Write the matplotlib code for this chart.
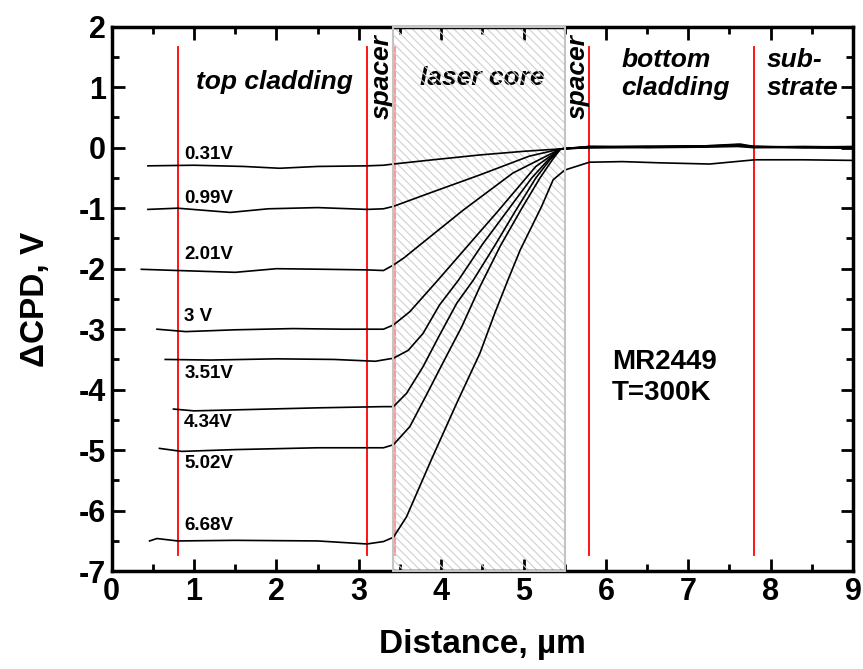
import matplotlib
matplotlib.use("Agg")
import matplotlib.pyplot as plt
from matplotlib.patches import Rectangle
from matplotlib.ticker import MultipleLocator

plt.rcParams['font.family'] = ['Liberation Sans', 'DejaVu Sans']
plt.rcParams['font.weight'] = 'bold'
plt.rcParams['axes.unicode_minus'] = False
plt.rcParams['hatch.linewidth'] = 0.8

# curves: flat part in top cladding, rise through the laser core, flat part beyond
x_031 = [0.44, 1.0, 1.6, 2.04, 2.5, 3.1, 3.3, 3.42, 3.9, 4.47, 5.0, 5.45, 5.8, 6.5, 7.2, 7.63, 7.8, 8.4, 9.0]
y_031 = [-0.30, -0.29, -0.31, -0.34, -0.31, -0.30, -0.29, -0.27, -0.20, -0.12, -0.06, -0.02, 0.01, 0.02, 0.03, 0.06, 0.02, 0.01, 0.00]

x_099 = [0.44, 0.8, 1.44, 1.9, 2.5, 3.1, 3.3, 3.42, 3.86, 4.47, 5.07, 5.45, 5.8, 6.5, 7.2, 7.6, 7.8, 8.4, 9.0]
y_099 = [-1.02, -1.00, -1.07, -1.01, -0.99, -1.02, -1.01, -0.97, -0.75, -0.45, -0.14, -0.02, 0.00, 0.01, 0.02, 0.04, 0.01, 0.02, 0.01]

x_201 = [0.36, 0.8, 1.5, 2.0, 2.6, 3.1, 3.3, 3.42, 3.55, 3.74, 4.27, 4.87, 5.45, 5.8, 6.5, 7.2, 7.6, 7.8, 8.4, 9.0]
y_201 = [-2.01, -2.03, -2.06, -2.00, -2.01, -2.02, -2.03, -1.94, -1.82, -1.61, -1.03, -0.42, -0.02, 0.02, 0.01, 0.03, 0.03, 0.02, 0.00, -0.01]

x_300 = [0.55, 0.9, 1.5, 2.2, 2.8, 3.3, 3.42, 3.62, 3.96, 4.49, 4.67, 5.15, 5.45, 5.8, 6.5, 7.2, 7.6, 7.8, 8.4, 9.0]
y_300 = [-3.00, -3.04, -3.01, -2.99, -3.00, -3.00, -2.93, -2.71, -2.19, -1.36, -1.08, -0.31, -0.02, 0.01, 0.02, 0.02, 0.05, 0.01, 0.01, 0.02]

x_351 = [0.65, 1.2, 2.0, 2.7, 3.2, 3.42, 3.6, 3.78, 3.98, 4.21, 4.5, 4.8, 5.1, 5.3, 5.45, 5.8, 6.5, 7.2, 7.6, 7.8, 8.4, 9.0]
y_351 = [-3.50, -3.51, -3.49, -3.50, -3.53, -3.48, -3.35, -3.07, -2.60, -2.19, -1.60, -1.05, -0.50, -0.20, -0.02, 0.00, 0.01, 0.03, 0.04, 0.01, 0.00, 0.01]

x_434 = [0.75, 1.0, 1.6, 2.5, 3.3, 3.42, 3.58, 3.78, 3.98, 4.19, 4.39, 4.65, 4.9, 5.15, 5.32, 5.45, 5.8, 6.5, 7.2, 7.6, 7.8, 8.4, 9.0]
y_434 = [-4.32, -4.35, -4.33, -4.30, -4.28, -4.28, -4.06, -3.62, -3.10, -2.57, -2.19, -1.62, -1.05, -0.50, -0.20, -0.02, 0.02, 0.02, 0.02, 0.03, 0.02, 0.01, 0.00]

x_502 = [0.58, 0.85, 1.5, 2.5, 3.3, 3.42, 3.62, 3.82, 4.02, 4.25, 4.47, 4.72, 4.98, 5.2, 5.35, 5.45, 5.8, 6.5, 7.2, 7.6, 7.8, 8.4, 9.0]
y_502 = [-4.97, -5.02, -4.99, -4.96, -4.96, -4.91, -4.61, -4.09, -3.56, -2.96, -2.30, -1.62, -1.00, -0.50, -0.20, -0.02, 0.01, 0.00, 0.01, 0.02, 0.00, 0.01, 0.01]

x_668 = [0.46, 0.55, 0.8, 1.5, 2.5, 3.1, 3.3, 3.42, 3.58, 3.88, 4.19, 4.47, 4.65, 4.81, 4.96, 5.22, 5.36, 5.5,
         5.8, 6.2, 6.65, 7.26, 7.81, 8.4, 9.0]
y_668 = [-6.50, -6.46, -6.50, -6.49, -6.50, -6.55, -6.51, -6.44, -6.10, -5.16, -4.22, -3.40, -2.74, -2.19, -1.69, -0.97, -0.53, -0.37,
         -0.24, -0.23, -0.25, -0.27, -0.20, -0.20, -0.21]

curves_x = [x_031, x_099, x_201, x_300, x_351, x_434, x_502, x_668]
curves_y = [y_031, y_099, y_201, y_300, y_351, y_434, y_502, y_668]

curve_labels = ['0.31V', '0.99V', '2.01V', '3 V', '3.51V', '4.34V', '5.02V', '6.68V']
label_y = [-0.12, -0.84, -1.77, -2.79, -3.73, -4.55, -5.22, -6.25]

boundaries = [0.8, 3.1, 3.42, 5.8, 7.8]
core_left, core_right = 3.42, 5.5

fig = plt.figure(figsize=(8.63, 6.69), dpi=100)
ax = fig.add_axes([0.1294, 0.1462, 0.8590, 0.8139])

ax.set_xlim(0, 9)
ax.set_ylim(-7, 2)

# laser core hatched region
ax.add_patch(Rectangle((core_left, -7), core_right - core_left, 9, facecolor='none',
                       edgecolor='#cfcfcf', hatch='\\\\\\\\', linewidth=0, zorder=2))
ax.add_patch(Rectangle((core_left, -7), core_right - core_left, 9, facecolor='none',
                       edgecolor='#c4c4c4', linewidth=1.5, zorder=6, clip_on=False))

for bx in boundaries:
    if bx == core_left:
        ax.plot([bx + 0.02, bx + 0.02], [-6.73, 1.67], color='red', lw=1.3, alpha=0.45, zorder=1)
    else:
        ax.plot([bx, bx], [-6.73, 1.67], color='red', lw=1.3, zorder=1)

for cx, cy in zip(curves_x, curves_y):
    ax.plot(cx, cy, color='black', lw=1.2, zorder=3)

for lab, ly in zip(curve_labels, label_y):
    ax.text(0.88, ly, lab, fontsize=13.5, fontweight='bold', ha='left', va='center', zorder=4)

ax.text(1.97, 1.09, 'top cladding', fontsize=19, fontweight='bold', style='italic',
        ha='center', va='center')
ax.text(4.5, 1.15, 'laser core', fontsize=19, fontweight='bold', style='italic',
        ha='center', va='center', zorder=1)
ax.text(3.28, 1.18, 'spacer', fontsize=19, fontweight='bold', style='italic',
        ha='center', va='center', rotation=90)
ax.text(5.66, 1.18, 'spacer', fontsize=19, fontweight='bold', style='italic',
        ha='center', va='center', rotation=90)
ax.text(6.19, 1.22, 'bottom\ncladding', fontsize=19, fontweight='bold', style='italic',
        ha='left', va='center', linespacing=1.2)
ax.text(7.95, 1.22, 'sub-\nstrate', fontsize=19, fontweight='bold', style='italic',
        ha='left', va='center', linespacing=1.2)
ax.text(6.07, -3.8, 'MR2449\nT=300K', fontsize=20, fontweight='bold',
        ha='left', va='center', linespacing=1.25)

ax.xaxis.set_major_locator(MultipleLocator(1))
ax.xaxis.set_minor_locator(MultipleLocator(0.5))
ax.yaxis.set_major_locator(MultipleLocator(1))
ax.yaxis.set_minor_locator(MultipleLocator(0.5))
ax.tick_params(which='both', direction='in', top=True, right=True, width=2)
ax.tick_params(which='major', length=9, labelsize=22)
ax.tick_params(axis='y', which='major', pad=4)
ax.tick_params(axis='x', which='major', pad=4)
ax.tick_params(which='minor', length=5)
for lab in ax.get_xticklabels() + ax.get_yticklabels():
    lab.set_fontweight('bold')
for sp in ax.spines.values():
    sp.set_linewidth(2.5)

ax.set_xlabel('Distance, µm', fontsize=24, fontweight='bold', labelpad=16)
ax.set_ylabel('ΔCPD, V', fontsize=24, fontweight='bold', labelpad=20)

fig.savefig('out.png', dpi=100)
